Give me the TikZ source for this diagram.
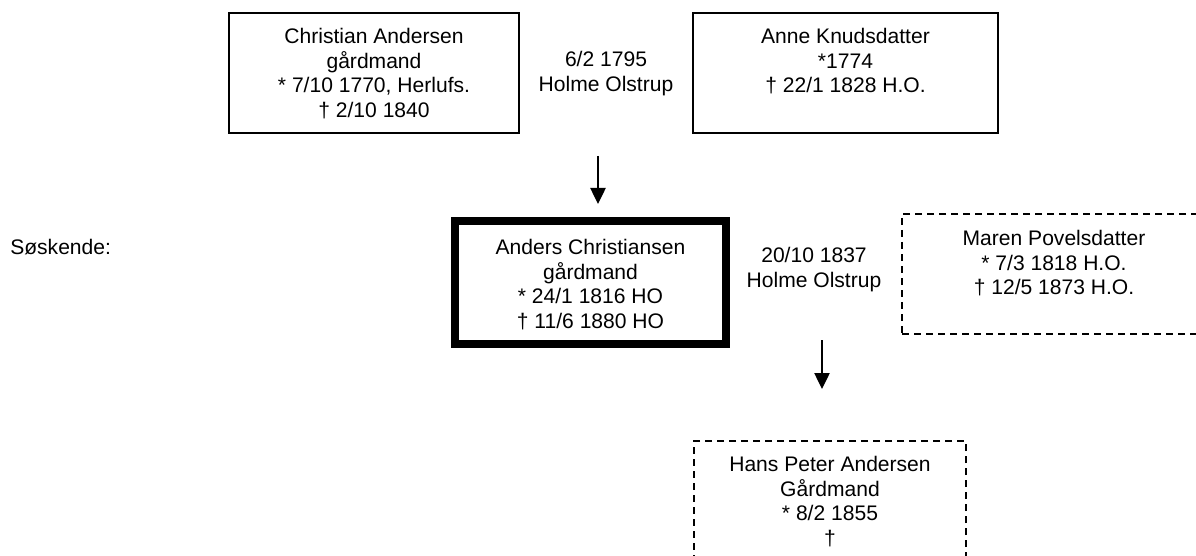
\documentclass[tikz,border=0pt]{standalone}
\usepackage{fontspec}
\setmainfont{Liberation Sans}
\usetikzlibrary{arrows.meta}
\begin{document}
\begin{tikzpicture}[x=0.75pt,y=-0.75pt,
  pbox/.style={draw, line width=1pt, inner sep=0pt},
  thickbox/.style={draw, line width=6pt, inner sep=0pt},
  dbox/.style={draw, line width=1pt, dash pattern=on 5.5pt off 3.5pt, inner sep=0pt},
  txt/.style={font=\fontsize{15.8}{18.4}\selectfont, align=center, inner sep=0pt, anchor=north},
  arr/.style={line width=1pt, -{Triangle[width=11.5pt,length=12pt]}}]
\clip (0,0) rectangle (1196,556);
\fill[white] (0,0) rectangle (1196,556);
% boxes
\node[pbox, minimum width=217.5pt, minimum height=90pt] (chrbox) at (374,73) {};
\node[pbox, minimum width=228.75pt, minimum height=90pt] (annebox) at (845.5,73) {};
\node[thickbox, minimum width=203.25pt, minimum height=92.25pt] (andbox) at (590.5,282.5) {};
\node[dbox, minimum width=228pt, minimum height=90pt] (marbox) at (1054,274) {};
\node[dbox, minimum width=204pt, minimum height=127.5pt] (hansbox) at (830,526) {};
% texts
\node[txt] (chr) at (374,26.3) {\strut Christian Andersen\\gårdmand\\{*} 7/10 1770, Herlufs.\\† 2/10 1840};
\node[txt] (anne) at (845.5,26.3) {\strut Anne Knudsdatter\\{*}1774\\† 22/1 1828 H.O.};
\node[txt] (m1) at (606,49.3) {\strut 6/2 1795\\Holme Olstrup};
\node[txt] (and) at (590.5,237.3) {\strut Anders Christiansen\\gårdmand\\{*} 24/1 1816 HO\\† 11/6 1880 HO};
\node[txt] (m2) at (814,245.3) {\strut 20/10 1837\\Holme Olstrup};
\node[txt] (mar) at (1054,228.3) {\strut Maren Povelsdatter\\{*} 7/3 1818 H.O.\\† 12/5 1873 H.O.};
\node[txt] (hans) at (830,454.3) {\strut Hans Peter Andersen\\Gårdmand\\{*} 8/2 1855\\†};
\node[font=\fontsize{15.8}{18.4}\selectfont, anchor=base west, inner sep=0pt] (sosk) at (10,254.5) {Søskende:};
% arrows
\coordinate (a1s) at (598,156);
\coordinate (a1e) at (598,204);
\coordinate (a2s) at (822,340);
\coordinate (a2e) at (822,389);
\draw[arr] (a1s) -- (a1e);
\draw[arr] (a2s) -- (a2e);
\end{tikzpicture}
\end{document}
